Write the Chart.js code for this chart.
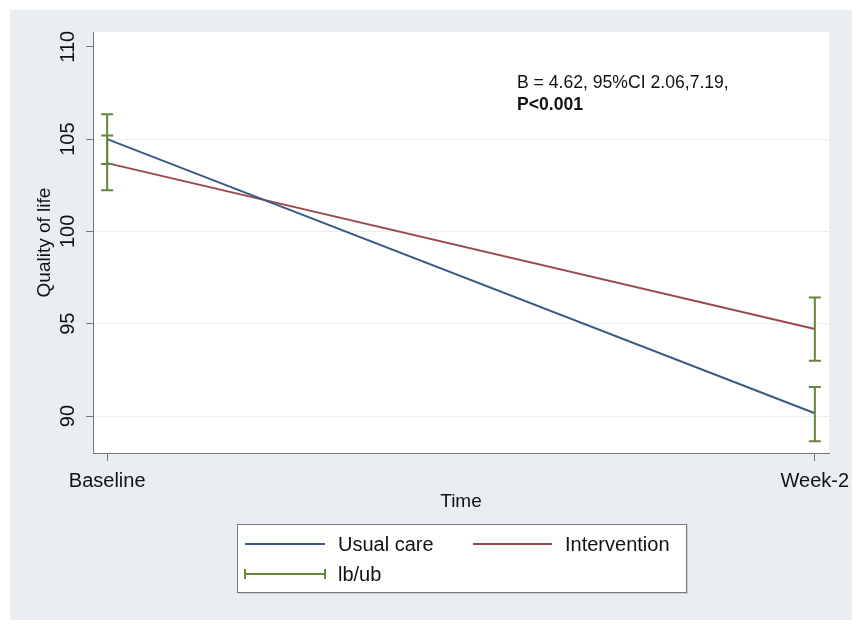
<!DOCTYPE html>
<html>
<head>
<meta charset="utf-8">
<script src="https://cdn.jsdelivr.net/npm/chart.js@4/dist/chart.umd.min.js"></script>
<style>
  html, body { margin: 0; padding: 0; background: #ffffff; }
  #wrap { width: 862px; height: 628px; position: relative; }
</style>
</head>
<body>
<div id="wrap"><canvas id="c" width="862" height="628"></canvas></div>
<script>
// ---- data ----
const categories = ['Baseline', 'Week-2'];
const usualCare = [105.0, 90.15];
const intervention = [103.7, 94.72];
const usualLb = [103.65, 88.63];
const usualUb = [106.35, 91.57];
const interventionLb = [102.23, 93.0];
const interventionUb = [105.2, 96.42];
const yTicks = [90, 95, 100, 105, 110];
const seriesNames = ['Usual care', 'Intervention', 'lb/ub'];
const annotationLines = ['B = 4.62, 95%CI 2.06,7.19,', 'P<0.001'];

const BLUE = '#3a5c84';
const RED = '#9a4a4f';
const GREEN = '#67863a';
const FONT = '"Liberation Sans", Arial, sans-serif';

const toPts = arr => arr.map((v, i) => ({ x: i, y: v }));

const panelPlugin = {
  id: 'panel',
  beforeDraw(chart) {
    const ctx = chart.ctx, a = chart.chartArea;
    ctx.save();
    ctx.fillStyle = '#ffffff';
    ctx.fillRect(0, 0, chart.width, chart.height);
    ctx.fillStyle = '#eaeef2';
    ctx.fillRect(10, 10, 842, 610);
    ctx.fillStyle = '#ffffff';
    ctx.fillRect(a.left, a.top, a.right - a.left, a.bottom - a.top);
    ctx.restore();
  }
};

const extrasPlugin = {
  id: 'extras',
  afterDatasetsDraw(chart) {
    const ctx = chart.ctx;
    const xs = chart.scales.x, ys = chart.scales.y;
    ctx.save();
    ctx.strokeStyle = GREEN;
    ctx.lineWidth = 2;
    const cap = 6;
    const drawCap = (lb, ub) => {
      lb.forEach((l, i) => {
        const px = xs.getPixelForValue(i);
        const y1 = ys.getPixelForValue(l), y2 = ys.getPixelForValue(ub[i]);
        ctx.beginPath();
        ctx.moveTo(px, y1); ctx.lineTo(px, y2);
        ctx.moveTo(px - cap, y1); ctx.lineTo(px + cap, y1);
        ctx.moveTo(px - cap, y2); ctx.lineTo(px + cap, y2);
        ctx.stroke();
      });
    };
    drawCap(usualLb, usualUb);
    drawCap(interventionLb, interventionUb);
    ctx.restore();
  },
  afterDraw(chart) {
    const ctx = chart.ctx;
    const ys = chart.scales.y;
    ctx.save();
    ctx.fillStyle = '#111111';
    ctx.font = '20px ' + FONT;
    ctx.textAlign = 'center';
    ctx.textBaseline = 'middle';
    yTicks.forEach(v => {
      const py = ys.getPixelForValue(v);
      ctx.save();
      ctx.translate(68, py);
      ctx.rotate(-Math.PI / 2);
      ctx.fillText(String(v), 0, 0);
      ctx.restore();
    });
    ctx.save();
    ctx.font = '19px ' + FONT;
    ctx.translate(45, (chart.chartArea.top + chart.chartArea.bottom) / 2);
    ctx.rotate(-Math.PI / 2);
    ctx.fillText('Quality of life', 0, 0);
    ctx.restore();

    ctx.textAlign = 'left';
    ctx.textBaseline = 'alphabetic';
    ctx.font = '17.6px ' + FONT;
    ctx.fillText(annotationLines[0], 517, 88);
    ctx.font = 'bold 17.6px ' + FONT;
    ctx.fillText(annotationLines[1], 517, 110);

    const bx = 237, by = 524, bw = 449, bh = 68;
    ctx.fillStyle = 'rgba(0,0,0,0.12)';
    ctx.fillRect(bx + 1, by + 1, bw + 1, bh + 1);
    ctx.fillStyle = '#ffffff';
    ctx.fillRect(bx, by, bw, bh);
    ctx.strokeStyle = '#7a7a7a';
    ctx.lineWidth = 1;
    ctx.strokeRect(bx + 0.5, by + 0.5, bw, bh);

    ctx.lineWidth = 2;
    const row1 = 544, row2 = 574;
    ctx.strokeStyle = BLUE;
    ctx.beginPath(); ctx.moveTo(245, row1); ctx.lineTo(325, row1); ctx.stroke();
    ctx.strokeStyle = RED;
    ctx.beginPath(); ctx.moveTo(473, row1); ctx.lineTo(552, row1); ctx.stroke();
    ctx.strokeStyle = GREEN;
    ctx.beginPath();
    ctx.moveTo(245, row2); ctx.lineTo(325, row2);
    ctx.moveTo(245, row2 - 5); ctx.lineTo(245, row2 + 5);
    ctx.moveTo(325, row2 - 5); ctx.lineTo(325, row2 + 5);
    ctx.stroke();

    ctx.fillStyle = '#111111';
    ctx.font = '20px ' + FONT;
    ctx.textBaseline = 'middle';
    ctx.fillText(seriesNames[0], 338, row1 + 1);
    ctx.fillText(seriesNames[1], 565, row1 + 1);
    ctx.fillText(seriesNames[2], 338, row2 + 1);
    ctx.restore();
  }
};

new Chart(document.getElementById('c'), {
  type: 'line',
  data: {
    datasets: [
      { label: seriesNames[0], data: toPts(usualCare), borderColor: BLUE, borderWidth: 2, pointRadius: 0, tension: 0 },
      { label: seriesNames[1], data: toPts(intervention), borderColor: RED, borderWidth: 2, pointRadius: 0, tension: 0 }
    ]
  },
  options: {
    responsive: false,
    animation: false,
    events: [],
    layout: { padding: { left: 10, top: 32, right: 33, bottom: 115 } },
    plugins: { legend: { display: false }, tooltip: { enabled: false } },
    scales: {
      x: {
        type: 'linear',
        min: -0.02, max: 1.02,
        afterBuildTicks: s => { s.ticks = categories.map((c, i) => ({ value: i })); },
        afterFit: s => { s.height = 60; },
        ticks: {
          callback: v => categories[v] ?? '',
          color: '#111', font: { family: FONT, size: 20 },
          padding: 8, maxRotation: 0, minRotation: 0, autoSkip: false
        },
        grid: { drawOnChartArea: false, drawTicks: true, tickLength: 8, tickColor: '#777', lineWidth: 1 },
        border: { color: '#777', width: 1 },
        title: { display: true, text: 'Time', color: '#111', font: { family: FONT, size: 19 }, padding: { top: 0, bottom: 0 } }
      },
      y: {
        min: 88, max: 110.8,
        afterBuildTicks: s => { s.ticks = yTicks.map(v => ({ value: v })); },
        afterFit: s => { s.width = 83; },
        ticks: { display: false },
        grid: {
          color: ctx => (ctx.tick && ctx.tick.value === 110) ? 'rgba(0,0,0,0)' : '#eceff2',
          tickColor: '#777', tickLength: 7, drawTicks: true, lineWidth: 1
        },
        border: { color: '#777', width: 1 }
      }
    }
  },
  plugins: [panelPlugin, extrasPlugin]
});
</script>
</body>
</html>
